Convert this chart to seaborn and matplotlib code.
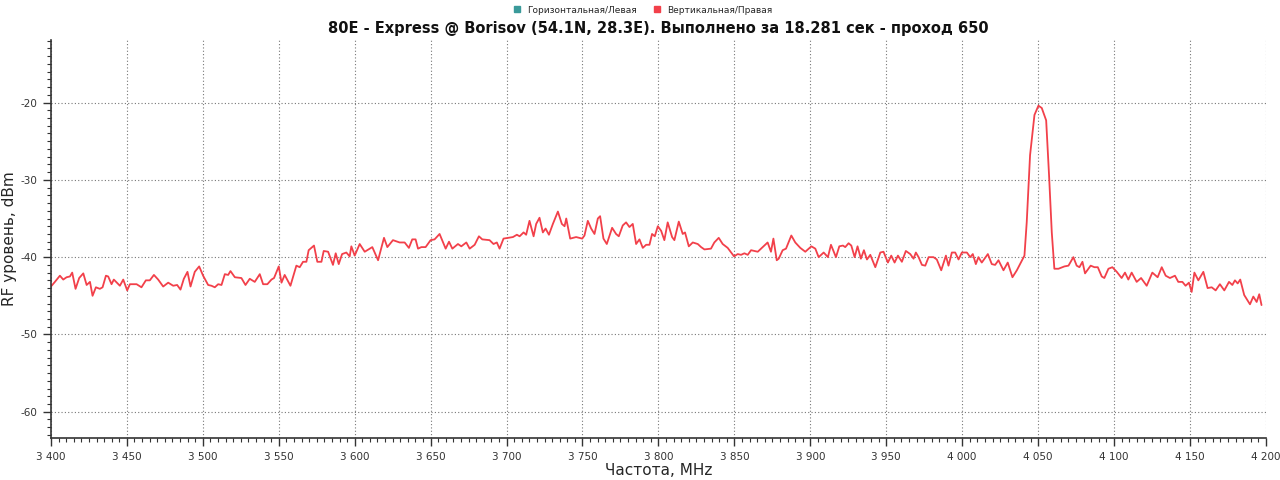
import numpy as np
import pandas as pd
import seaborn as sns
from matplotlib import pyplot as plt
from matplotlib.lines import Line2D
from matplotlib.ticker import MultipleLocator, FuncFormatter

# values (vertical/right polarisation)
freq_mhz = [
    3400.0, 3402.6, 3405.9, 3408.1, 3410.3, 3412.5, 3414.0, 3416.2, 3418.6, 3421.3,
    3423.5, 3425.7, 3427.4, 3429.6, 3432.2, 3434.0, 3436.2, 3437.7, 3439.9, 3441.4,
    3445.4, 3447.6, 3450.2, 3452.0, 3456.4, 3459.6, 3462.5, 3465.1, 3467.8, 3470.6,
    3473.9, 3477.2, 3480.5, 3483.1, 3485.3, 3487.5, 3489.9, 3491.9, 3494.7, 3497.6,
    3500.2, 3503.5, 3505.7, 3507.9, 3510.1, 3512.3, 3514.5, 3516.7, 3518.2, 3521.1,
    3525.4, 3528.1, 3530.9, 3534.2, 3537.5, 3539.7, 3542.5, 3545.2, 3546.9, 3550.0,
    3551.8, 3553.9, 3557.7, 3561.6, 3563.8, 3566.0, 3568.2, 3569.7, 3573.2, 3575.4,
    3578.1, 3579.6, 3582.5, 3585.7, 3587.5, 3589.5, 3591.7, 3594.5, 3596.7, 3597.8,
    3600.0, 3603.3, 3606.6, 3611.6, 3615.4, 3619.3, 3621.5, 3625.2, 3629.6, 3632.9,
    3635.7, 3637.9, 3640.1, 3641.7, 3643.9, 3646.7, 3650.0, 3652.6, 3655.9, 3659.9,
    3662.1, 3664.3, 3668.0, 3670.2, 3673.5, 3675.7, 3679.0, 3681.8, 3684.0, 3688.8,
    3691.4, 3693.6, 3695.4, 3698.0, 3700.9, 3704.2, 3706.8, 3708.6, 3711.2, 3712.9,
    3715.1, 3717.8, 3719.5, 3721.7, 3723.9, 3725.7, 3727.9, 3730.5, 3733.8, 3736.4,
    3738.2, 3739.3, 3741.9, 3745.8, 3749.8, 3751.3, 3753.5, 3755.7, 3757.9, 3760.1,
    3761.6, 3763.8, 3766.0, 3769.5, 3772.1, 3773.9, 3776.5, 3778.7, 3780.9, 3783.1,
    3785.3, 3787.5, 3789.7, 3791.9, 3794.1, 3795.8, 3797.6, 3799.6, 3801.8, 3803.9,
    3806.1, 3809.0, 3810.5, 3813.4, 3816.0, 3817.5, 3820.0, 3822.6, 3825.9, 3828.1,
    3830.3, 3834.6, 3836.8, 3839.7, 3842.3, 3845.6, 3849.8, 3852.2, 3854.4, 3856.6,
    3858.8, 3861.0, 3865.4, 3868.6, 3871.9, 3874.1, 3875.7, 3877.9, 3879.2, 3881.8,
    3884.0, 3887.5, 3890.1, 3893.4, 3896.7, 3900.7, 3903.3, 3905.5, 3908.8, 3911.6,
    3913.6, 3916.9, 3919.1, 3921.5, 3923.0, 3925.2, 3927.0, 3929.2, 3931.1, 3933.3,
    3935.3, 3937.3, 3939.5, 3942.8, 3946.1, 3948.2, 3951.1, 3953.3, 3955.5, 3957.7,
    3960.3, 3962.9, 3965.8, 3968.0, 3969.5, 3971.3, 3973.5, 3975.7, 3977.9, 3981.1,
    3983.3, 3986.2, 3989.3, 3991.0, 3993.2, 3995.4, 3997.6, 3999.8, 4003.1, 4005.3,
    4007.0, 4009.0, 4010.7, 4012.9, 4016.9, 4019.5, 4021.7, 4023.9, 4027.2, 4030.0,
    4033.1, 4036.0, 4041.0, 4042.5, 4044.7, 4047.6, 4050.2, 4052.4, 4055.3, 4057.2,
    4059.0, 4060.7, 4063.4, 4067.3, 4070.0, 4073.2, 4075.4, 4077.2, 4079.2, 4080.9,
    4084.6, 4087.1, 4089.3, 4091.9, 4093.6, 4096.3, 4098.9, 4101.8, 4105.0, 4107.2,
    4109.4, 4111.6, 4114.9, 4117.8, 4121.5, 4125.2, 4128.7, 4131.4, 4134.0, 4136.8,
    4140.1, 4142.3, 4145.0, 4147.1, 4149.3, 4151.1, 4152.9, 4155.5, 4158.8, 4161.6,
    4164.3, 4166.9, 4169.7, 4172.6, 4175.7, 4177.9, 4179.6, 4181.4, 4183.1, 4185.7,
    4189.5, 4191.7, 4193.9, 4195.6, 4197.1,
]
level_dbm = [
    -43.8, -43.2, -42.4, -42.9, -42.6, -42.5, -42.0, -44.1, -42.7, -42.1,
    -43.6, -43.2, -45.0, -43.9, -44.1, -43.9, -42.4, -42.5, -43.5, -42.9,
    -43.7, -42.9, -44.3, -43.5, -43.5, -43.9, -43.0, -43.0, -42.3, -42.9,
    -43.8, -43.3, -43.7, -43.6, -44.2, -42.8, -41.9, -43.8, -41.9, -41.2,
    -42.4, -43.6, -43.7, -43.9, -43.5, -43.6, -42.2, -42.3, -41.8, -42.6,
    -42.7, -43.6, -42.8, -43.2, -42.2, -43.5, -43.5, -42.9, -42.7, -41.2,
    -43.3, -42.3, -43.7, -41.1, -41.3, -40.6, -40.6, -39.1, -38.5, -40.6,
    -40.6, -39.2, -39.3, -41.0, -39.5, -40.9, -39.6, -39.4, -39.9, -38.6,
    -39.8, -38.3, -39.3, -38.7, -40.4, -37.5, -38.7, -37.8, -38.1, -38.1,
    -38.8, -37.7, -37.7, -38.9, -38.7, -38.7, -37.8, -37.7, -37.0, -38.9,
    -38.0, -38.9, -38.3, -38.6, -38.1, -38.9, -38.4, -37.3, -37.7, -37.8,
    -38.3, -38.1, -38.9, -37.6, -37.5, -37.4, -37.1, -37.3, -36.8, -37.1,
    -35.3, -37.3, -35.7, -34.9, -36.8, -36.3, -37.1, -35.7, -34.1, -35.7,
    -36.0, -35.0, -37.6, -37.4, -37.6, -37.2, -35.3, -36.3, -37.0, -35.0,
    -34.7, -37.6, -38.3, -36.2, -37.0, -37.3, -35.9, -35.5, -36.1, -35.7,
    -38.3, -37.7, -38.8, -38.4, -38.4, -37.0, -37.3, -36.0, -36.6, -37.8,
    -35.5, -37.4, -37.8, -35.4, -37.0, -36.8, -38.6, -38.1, -38.3, -38.7,
    -39.0, -38.9, -38.1, -37.5, -38.3, -38.8, -39.9, -39.6, -39.7, -39.5,
    -39.7, -39.1, -39.3, -38.7, -38.1, -39.3, -37.6, -40.4, -40.2, -39.1,
    -38.9, -37.2, -38.1, -38.8, -39.3, -38.6, -38.9, -40.0, -39.4, -40.0,
    -38.4, -40.0, -38.6, -38.5, -38.7, -38.2, -38.5, -40.0, -38.6, -40.2,
    -39.1, -40.3, -39.7, -41.3, -39.4, -39.3, -40.7, -39.8, -40.7, -39.8,
    -40.6, -39.2, -39.6, -40.2, -39.4, -40.0, -41.0, -41.1, -40.0, -40.0,
    -40.3, -41.7, -39.8, -41.1, -39.4, -39.4, -40.3, -39.4, -39.4, -40.0,
    -39.6, -40.9, -40.0, -40.7, -39.6, -40.9, -41.0, -40.4, -41.7, -40.7,
    -42.6, -41.7, -39.8, -35.5, -26.8, -21.6, -20.4, -20.7, -22.3, -29.4,
    -36.8, -41.5, -41.5, -41.2, -41.1, -40.0, -41.1, -41.3, -40.6, -42.1,
    -41.1, -41.3, -41.3, -42.5, -42.7, -41.5, -41.3, -41.9, -42.7, -42.0,
    -42.9, -42.0, -43.2, -42.7, -43.7, -42.0, -42.6, -41.3, -42.4, -42.7,
    -42.4, -43.2, -43.2, -43.7, -43.3, -44.5, -42.0, -43.0, -41.9, -44.0,
    -43.9, -44.3, -43.5, -44.3, -43.2, -43.6, -43.0, -43.4, -42.9, -44.9,
    -46.1, -45.1, -45.8, -44.8, -46.2,
]

series_names = ["Горизонтальная/Левая", "Вертикальная/Правая"]
series_colors = ["#3a9a9a", "#f2404a"]
title = "80E - Express @ Borisov (54.1N, 28.3E). Выполнено за 18.281 сек - проход 650"

df = pd.DataFrame({"freq": freq_mhz, "level": level_dbm})

sns.set_style("white")
plt.rcParams["font.family"] = ["DejaVu Sans"]

fig = plt.figure(figsize=(12.8, 4.8), dpi=100)
ax = fig.add_axes([0.0398, 0.0875, 0.9492, 0.8292])

sns.lineplot(data=df, x="freq", y="level", ax=ax, color=series_colors[1],
             linewidth=1.3, estimator=None, sort=False)

ax.set_xlim(3400, 4200)
ax.set_ylim(-63.4, -11.9)

ax.xaxis.set_major_locator(MultipleLocator(50))
ax.xaxis.set_minor_locator(MultipleLocator(5))
ax.yaxis.set_major_locator(MultipleLocator(10))
ax.yaxis.set_minor_locator(MultipleLocator(1))
ax.xaxis.set_major_formatter(FuncFormatter(lambda v, p: f"{int(round(v)):,}".replace(",", " ")))
ax.yaxis.set_major_formatter(FuncFormatter(lambda v, p: f"{int(round(v))}"))

ax.tick_params(axis="both", which="both", bottom=True, left=True, direction="out",
               color="#333333")
ax.tick_params(axis="both", which="major", length=6, width=1,
               labelsize=7.5, labelcolor="#333333")
ax.tick_params(axis="both", which="minor", length=3, width=0.8)
ax.tick_params(axis="x", which="major", pad=4)
ax.tick_params(axis="y", which="major", pad=4)

ax.grid(True, which="major", linestyle=(0, (1, 2)), color="#777777", linewidth=0.8)

for side in ["top", "right"]:
    ax.spines[side].set_visible(False)
for side in ["left", "bottom"]:
    ax.spines[side].set_color("#333333")
    ax.spines[side].set_linewidth(1.2)

ax.set_xlabel("Частота, MHz", fontsize=11, labelpad=1)
ax.set_ylabel("RF уровень, dBm", fontsize=11, labelpad=2)
ax.set_title(title, fontsize=10.5, fontweight="bold", pad=5, color="#111111")

handles = [Line2D([], [], marker="s", linestyle="", markersize=5,
                  markerfacecolor=c, markeredgecolor=c) for c in series_colors]
fig.legend(handles, series_names, loc="center", bbox_to_anchor=(0.5, 0.979),
           ncol=2, frameon=False, fontsize=6.5, handletextpad=0.1,
           columnspacing=1.2, borderaxespad=0)

fig.savefig("out.png", dpi=100)
